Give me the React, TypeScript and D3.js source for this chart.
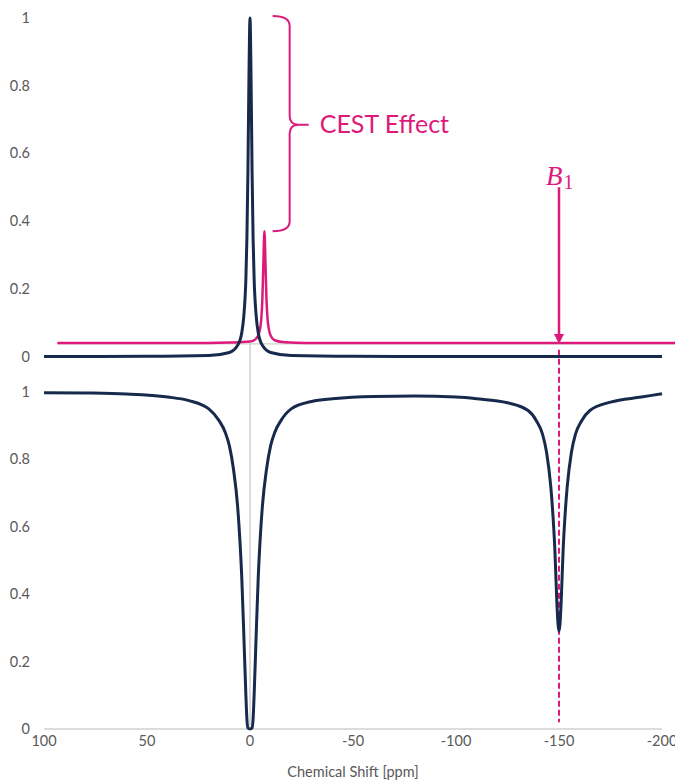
import * as d3 from "d3";
import { useEffect, useRef } from "react";

// chemical shift axis (ppm)
const ppmTicks = [100, 50, 0, -50, -100, -150, -200];
const yTicks = [0, 0.2, 0.4, 0.6, 0.8, 1];

// top panel: bulk water NMR line
const waterShift = [100, 50, 20, 10, 6, 4, 3, 2, 1.5, 1, 0.5, 0, -0.5, -1, -1.5, -2, -3, -4, -6, -10, -20, -50, -100, -200];
const waterSignal = [0, 0.0005, 0.003, 0.012, 0.033, 0.07, 0.12, 0.23, 0.35, 0.55, 0.83, 1, 0.83, 0.55, 0.35, 0.23, 0.12, 0.07, 0.033, 0.012, 0.003, 0.0005, 0, 0];

// top panel: line after saturation (pink)
const satShift = [93.5, 50, 20, 10, 0, -2, -4, -5, -5.5, -6, -6.5, -7, -7.5, -8, -8.5, -9, -10, -12, -17, -27, -50, -100, -150, -206.5];
const satSignal = [0.04, 0.04, 0.04, 0.041, 0.044, 0.048, 0.062, 0.086, 0.113, 0.169, 0.277, 0.37, 0.277, 0.169, 0.113, 0.086, 0.062, 0.048, 0.042, 0.04, 0.04, 0.04, 0.04, 0.04];

// bottom panel: Z-spectrum
const zShift = [100, 80, 60, 40, 30, 20, 15, 12, 10, 8, 6, 5, 4, 3, 2, 1.5, 1, 0, -1, -1.5, -2, -3, -4, -5, -6, -8, -10, -12, -15, -20, -30, -40, -60, -80, -100, -110, -125, -135, -139, -142, -144, -146, -147, -148, -148.5, -149, -150, -151, -151.5, -152, -153, -154, -156, -158, -161, -165, -175, -190, -200];
const zValue = [0.998, 0.997, 0.994, 0.985, 0.975, 0.95, 0.915, 0.88, 0.84, 0.77, 0.66, 0.57, 0.45, 0.28, 0.1, 0.03, 0.003, 0, 0.003, 0.03, 0.1, 0.28, 0.45, 0.57, 0.66, 0.77, 0.84, 0.88, 0.915, 0.95, 0.972, 0.98, 0.987, 0.988, 0.985, 0.98, 0.968, 0.945, 0.915, 0.875, 0.82, 0.72, 0.64, 0.53, 0.45, 0.37, 0.29, 0.37, 0.45, 0.53, 0.64, 0.72, 0.82, 0.875, 0.915, 0.945, 0.97, 0.985, 0.995];

// annotations
const saturationShift = -150;
const pinkBase = 0.04;
const braceShift = -11;
const braceTipShift = -28.5;

const NAVY = "#172a4c";
const PINK = "#dd1a7b";
const TICK = "#595959";
const FONT = "Lato, 'Open Sans', sans-serif";

type P = { x: number; y: number };

export default function App() {
  const svgRef = useRef<SVGSVGElement | null>(null);

  useEffect(() => {
    const svg = d3.select(svgRef.current);
    const width = 675;
    const height = 780;
    svg.selectAll("*").remove();
    svg.attr("width", width).attr("height", height);

    const x = d3.scaleLinear().domain([100, -200]).range([44, 662]);
    const yTop = d3.scaleLinear().domain([0, 1]).range([356.5, 18]);
    const yBot = d3.scaleLinear().domain([0, 1]).range([729, 392]);

    const zip = (xs: number[], ys: number[]): P[] => xs.map((v, i) => ({ x: v, y: ys[i] }));

    const lineTop = d3.line<P>().x((d) => x(d.x)).y((d) => yTop(d.y)).curve(d3.curveMonotoneX);
    const lineBot = d3.line<P>().x((d) => x(d.x)).y((d) => yBot(d.y)).curve(d3.curveMonotoneX);

    // gray axis lines
    svg.append("line")
      .attr("x1", x(0)).attr("x2", x(0))
      .attr("y1", yTop(pinkBase)).attr("y2", yBot(0))
      .attr("stroke", "#c4c4c4").attr("stroke-width", 1.2);
    svg.append("line")
      .attr("x1", x(93.5)).attr("x2", width)
      .attr("y1", yTop(pinkBase) + 1).attr("y2", yTop(pinkBase) + 1)
      .attr("stroke", "#d0d0d0").attr("stroke-width", 1.2);
    svg.append("line")
      .attr("x1", x(100)).attr("x2", x(-200))
      .attr("y1", yBot(0)).attr("y2", yBot(0))
      .attr("stroke", "#d0d0d0").attr("stroke-width", 1.5);

    // y tick labels
    const drawY = (y: d3.ScaleLinear<number, number>) => {
      svg.append("g")
        .selectAll("text")
        .data(yTicks)
        .enter()
        .append("text")
        .attr("x", 30)
        .attr("y", (d) => y(d))
        .attr("dy", "0.35em")
        .attr("text-anchor", "end")
        .attr("font-family", FONT)
        .attr("font-size", "14.5px")
        .attr("fill", TICK)
        .text((d) => d3.format("~g")(d));
    };
    drawY(yTop);
    drawY(yBot);

    // x tick labels
    svg.append("g")
      .selectAll("text")
      .data(ppmTicks)
      .enter()
      .append("text")
      .attr("x", (d) => x(d))
      .attr("y", yBot(0) + 12)
      .attr("dy", "0.35em")
      .attr("text-anchor", "middle")
      .attr("font-family", FONT)
      .attr("font-size", "14.5px")
      .attr("fill", TICK)
      .text((d) => d);

    svg.append("text")
      .attr("x", (x(100) + x(-200)) / 2)
      .attr("y", yBot(0) + 43)
      .attr("dy", "0.35em")
      .attr("text-anchor", "middle")
      .attr("font-family", FONT)
      .attr("font-size", "14.5px")
      .attr("fill", TICK)
      .text("Chemical Shift [ppm]");

    // dashed saturation line
    svg.append("line")
      .attr("x1", x(saturationShift)).attr("x2", x(saturationShift))
      .attr("y1", yTop(0.02)).attr("y2", yBot(0.02))
      .attr("stroke", PINK).attr("stroke-width", 2)
      .attr("stroke-dasharray", "6,3");

    // curves
    svg.append("path")
      .datum(zip(satShift, satSignal))
      .attr("fill", "none")
      .attr("stroke", PINK)
      .attr("stroke-width", 2.5)
      .attr("d", lineTop);

    svg.append("path")
      .datum(zip(waterShift, waterSignal))
      .attr("fill", "none")
      .attr("stroke", NAVY)
      .attr("stroke-width", 3)
      .attr("d", lineTop);

    svg.append("path")
      .datum(zip(zShift, zValue))
      .attr("fill", "none")
      .attr("stroke", NAVY)
      .attr("stroke-width", 3)
      .attr("d", lineBot);

    // brace: CEST effect
    const bx = x(braceShift);
    const bv = bx + 17;
    const bm = bv + 9;
    const bt = x(braceTipShift);
    const y0 = yTop(1) - 2;
    const y1 = yTop(0.37);
    const ym = (y0 + y1) / 2 + 1;
    svg.append("path")
      .attr("fill", "none")
      .attr("stroke", PINK)
      .attr("stroke-width", 2)
      .attr("d", `M${bx},${y0} Q${bv},${y0} ${bv},${y0 + 10} V${ym - 9} Q${bv},${ym} ${bm},${ym} H${bt} M${bm},${ym} Q${bv},${ym} ${bv},${ym + 9} V${y1 - 10} Q${bv},${y1} ${bx},${y1}`);

    svg.append("text")
      .attr("x", bt + 11)
      .attr("y", ym)
      .attr("dy", "0.35em")
      .attr("font-family", FONT)
      .attr("font-size", "25px")
      .attr("fill", PINK)
      .text("CEST Effect");

    // B1 arrow
    const ax = x(saturationShift);
    const aTip = yTop(pinkBase) + 1;
    svg.append("line")
      .attr("x1", ax).attr("x2", ax)
      .attr("y1", yTop(0.5)).attr("y2", aTip - 8)
      .attr("stroke", PINK).attr("stroke-width", 2.5);
    svg.append("path")
      .attr("fill", PINK)
      .attr("d", `M${ax - 5},${aTip - 10} L${ax + 5},${aTip - 10} L${ax},${aTip} Z`);

    const b1 = svg.append("text")
      .attr("x", ax - 13)
      .attr("y", yTop(0.5) - 2)
      .attr("font-family", "'Liberation Serif', 'DejaVu Serif', serif")
      .attr("font-size", "27px")
      .attr("fill", PINK);
    b1.append("tspan").attr("font-style", "italic").text("B");
    b1.append("tspan").attr("font-size", "20px").attr("dy", 4).attr("dx", 1).text("1");
  }, []);

  return <svg ref={svgRef} style={{ position: "absolute", left: 0, top: 0 }}></svg>;
}
